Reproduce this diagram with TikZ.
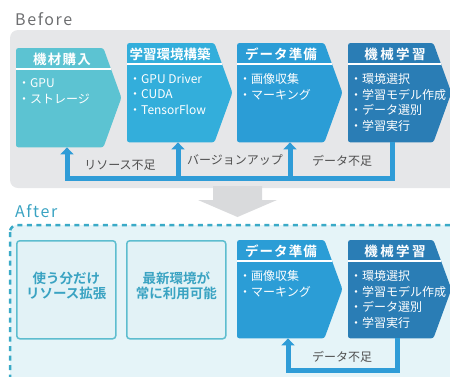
\documentclass[tikz,border=0pt]{standalone}
\usepackage{fontspec}
\setmainfont{Noto Sans CJK JP}[BoldFont={Noto Sans CJK JP Bold}]
\usetikzlibrary{arrows.meta}
\definecolor{bgG}{HTML}{E6E7E9}
\definecolor{arG}{HTML}{D9DADC}
\definecolor{cA}{HTML}{5CC3D2}
\definecolor{cB}{HTML}{33AEDB}
\definecolor{cC}{HTML}{2B9DD6}
\definecolor{cD}{HTML}{2A7DB5}
\definecolor{fbC}{HTML}{2F9CD7}
\definecolor{txG}{HTML}{4F4F4F}
\definecolor{hdG}{HTML}{6E6F71}
\definecolor{tealT}{HTML}{3AA3C2}
\definecolor{afFill}{HTML}{E5F4F8}
\definecolor{afLine}{HTML}{3AAAC7}
\definecolor{bxLine}{HTML}{5DBDCF}
\definecolor{bxFill}{HTML}{E2F2F6}
\newcommand\chevfill[2]{%
  \fill[#2,rounded corners=2.5pt] (#1.north west) -- ([xshift=-18pt]#1.north east) -- (#1.east) -- ([xshift=-18pt]#1.south east) -- (#1.south west) -- cycle;
  \draw[white,line width=1.4pt] ([yshift=-21pt]#1.north west) -- ([xshift=-10.4pt,yshift=-21pt]#1.north east);}
\begin{document}
\begin{tikzpicture}[x=1pt,y=-1pt,
  chev/.style={minimum width=105pt,minimum height=99pt,inner sep=0pt,anchor=north west},
  hdr/.style={font=\fontsize{13.5}{15}\selectfont\bfseries,text=white,inner sep=0pt},
  body/.style={font=\fontsize{12}{15.5}\selectfont,text=white,align=left,inner sep=0pt,anchor=north west},
  lbl/.style={font=\fontsize{12}{14}\selectfont,text=txG,inner sep=0pt},
  fb/.style={draw=fbC,line width=5pt},
  fbtip/.style={-{Triangle[width=13pt,length=7pt]}},
  outbox/.style={draw=bxLine,fill=bxFill,line width=1.5pt,rounded corners=3pt,minimum width=99pt,minimum height=98pt,anchor=north west,inner sep=0pt},
  outtxt/.style={font=\fontsize{13.5}{15}\selectfont\bfseries,text=tealT,align=center,inner sep=0pt},
  title/.style={font=\fontsize{16}{18}\selectfont\addfontfeature{LetterSpace=10},inner sep=0pt,anchor=base west}]
\useasboundingbox (0,0) rectangle (450,376);
\clip (0,0) rectangle (450,376);
% Before
\node[title,text=hdG] (tb) at (15,25.5) {Before};
\fill[bgG,rounded corners=8pt] (10,30) rectangle (480,188);
\fill[arG] (213,186) -- (262,186) -- (262,200) -- (277,200) -- (237.5,217) -- (198,200) -- (213,200) -- cycle;
\node[chev] (b1) at (16,48) {};
\node[chev] (b2) at (127,43) {};
\node[chev] (b3) at (237,43) {};
\node[chev,minimum width=103pt] (b4) at (348,43) {};
\chevfill{b1}{cA}
\chevfill{b2}{cB}
\chevfill{b3}{cC}
\chevfill{b4}{cD}
\node[hdr] (b1h) at ([xshift=46pt,yshift=-11pt]b1.north west) {\addfontfeature{LetterSpace=9}機材購入};
\node[hdr] (b2h) at ([xshift=43pt,yshift=-11pt]b2.north west) {学習環境構築};
\node[hdr] (b3h) at ([xshift=44pt,yshift=-11pt]b3.north west) {\addfontfeature{LetterSpace=8}データ準備};
\node[hdr] (b4h) at ([xshift=47pt,yshift=-11pt]b4.north west) {\addfontfeature{LetterSpace=18}機械学習};
\node[body] (b1t) at ([xshift=2pt,yshift=-30.5pt]b1.north west) {・GPU\\・ストレージ};
\node[body] (b2t) at ([xshift=2pt,yshift=-30.5pt]b2.north west) {・GPU Driver\\・CUDA\\・TensorFlow};
\node[body] (b3t) at ([xshift=2pt,yshift=-30.5pt]b3.north west) {・画像収集\\・マーキング};
\node[body] (b4t) at ([xshift=2pt,yshift=-30.5pt]b4.north west) {・環境選択\\・学習モデル作成\\・データ選別\\・学習実行};
\coordinate (p1) at ([xshift=51pt]b1.south west);
\coordinate (p2) at ([xshift=51pt]b2.south west);
\coordinate (p3) at ([xshift=53pt]b3.south west);
\coordinate (p4) at ([xshift=44pt]b4.south west);
\coordinate (bus) at (0,178);
\draw[fb,fbtip] (p4) |- (p1 |- bus) -- (p1);
\draw[fb,fbtip] (p2 |- bus) -- (p2);
\draw[fb,fbtip] (p3 |- bus) -- (p3);
\node[lbl] (l1) at (120,165) {リソース不足};
\node[lbl] (l2) at (235,160) {バージョンアップ};
\node[lbl] (l3) at (342,161) {データ不足};
% After
\node[title,text=tealT] (ta) at (15,217.5) {After};
\draw[afLine,fill=afFill,line width=2.5pt,dash pattern=on 5pt off 4.5pt,rounded corners=7pt] (10,225) rectangle (480,420);
\node[outbox] (o1) at (16,240) {};
\node[outbox] (o2) at (126,240) {};
\node[outtxt] (o1t) at ([yshift=4pt]o1.center) {使う分だけ\\リソース拡張};
\node[outtxt] (o2t) at ([yshift=4pt]o2.center) {最新環境が\\常に利用可能};
\node[chev,minimum height=98pt] (a3) at (237,240) {};
\node[chev,minimum height=98pt,minimum width=103pt] (a4) at (348,240) {};
\chevfill{a3}{cC}
\chevfill{a4}{cD}
\node[hdr] (a3h) at ([xshift=44pt,yshift=-11pt]a3.north west) {\addfontfeature{LetterSpace=8}データ準備};
\node[hdr] (a4h) at ([xshift=47pt,yshift=-11pt]a4.north west) {\addfontfeature{LetterSpace=18}機械学習};
\node[body] (a3t) at ([xshift=2pt,yshift=-30.5pt]a3.north west) {・画像収集\\・マーキング};
\node[body] (a4t) at ([xshift=2pt,yshift=-30.5pt]a4.north west) {・環境選択\\・学習モデル作成\\・データ選別\\・学習実行};
\coordinate (q3) at ([xshift=51pt]a3.south west);
\coordinate (q4) at ([xshift=49pt]a4.south west);
\coordinate (bus2) at (0,370);
\draw[fb,fbtip] (q4) |- (q3 |- bus2) -- (q3);
\node[lbl] (l4) at (342,357) {データ不足};
\end{tikzpicture}
\end{document}
